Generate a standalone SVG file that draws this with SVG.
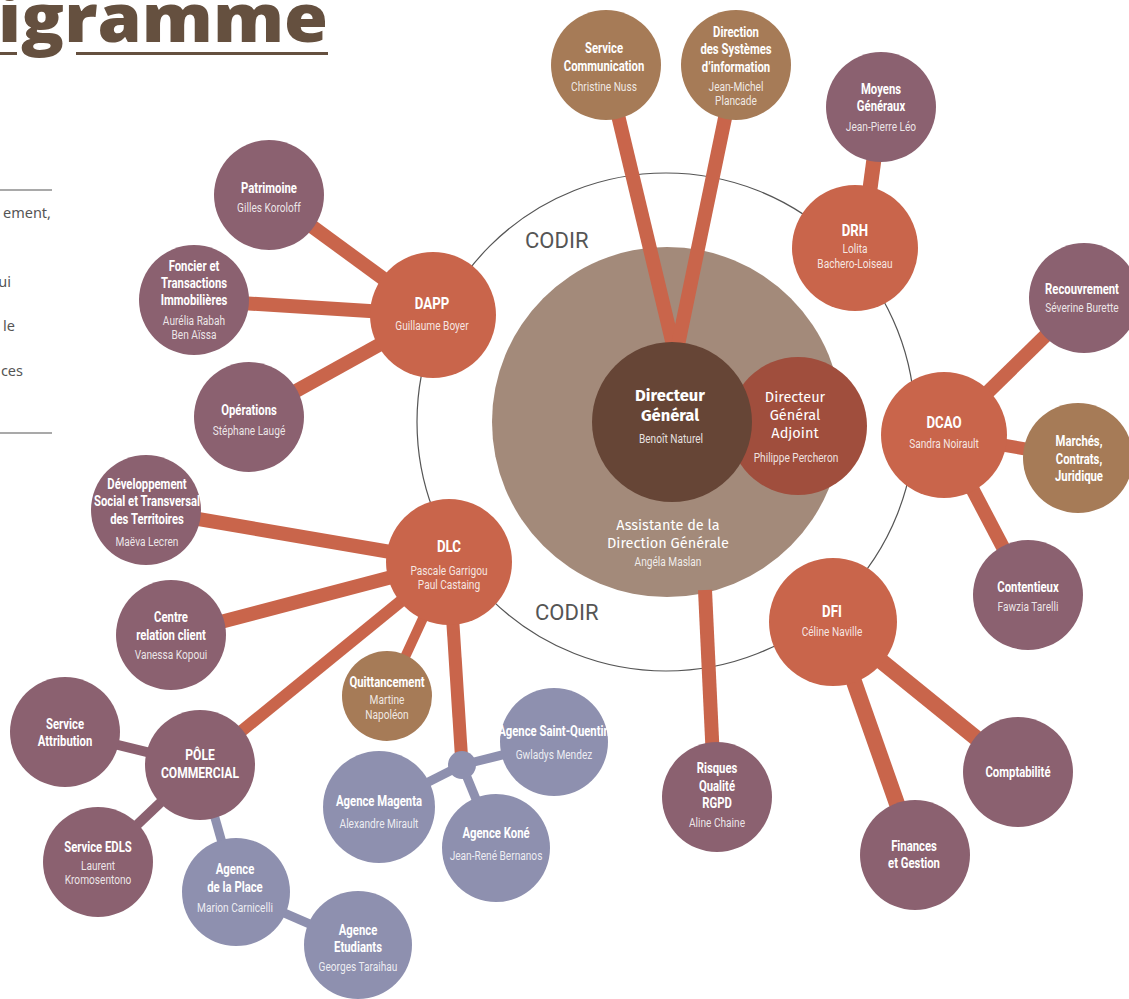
<svg xmlns="http://www.w3.org/2000/svg" width="1129" height="999" viewBox="0 0 1129 999">
<style>
.bg{fill:#ffffff}
.or{fill:#C9654B}.mv{fill:#8B6170}.br{fill:#A67B57}.lv{fill:#8E90AF}
.cO{stroke:#C9654B;stroke-linecap:butt;fill:none}
.cM{stroke:#8B6170;stroke-width:10;fill:none}
.cL{stroke:#8E90AF;stroke-width:9;fill:none}
.t{font-family:Roboto,"Liberation Sans",sans-serif;font-weight:bold;font-size:14.5px;fill:#ffffff;text-anchor:middle}
.h{font-family:Roboto,"Liberation Sans",sans-serif;font-weight:bold;font-size:17px;fill:#ffffff;text-anchor:middle}
.n{font-family:Roboto,"Liberation Sans",sans-serif;font-size:13px;fill:#ffffff;fill-opacity:0.85;text-anchor:middle}
.s{font-family:"Fira Sans","Open Sans","Noto Sans",sans-serif;font-size:14.5px;fill:#ffffff;text-anchor:middle}
.sb{font-family:"Fira Sans","Open Sans","Noto Sans",sans-serif;font-size:16.5px;font-weight:bold;fill:#ffffff;text-anchor:middle}
.codir{font-family:Roboto,"Liberation Sans",sans-serif;font-size:22px;fill:#555555}
.side{font-family:"Noto Sans","Open Sans",sans-serif;font-size:14.5px;fill:#555555;text-anchor:end}
</style>
<rect class="bg" x="0" y="0" width="1129" height="999"/>

<g id="title">
<text x="-2" y="42" font-family="'Open Sans','Noto Sans',sans-serif" font-weight="800" font-size="68" fill="#65503F" textLength="330" lengthAdjust="spacingAndGlyphs">igramme</text>
<line x1="0" y1="53.5" x2="17" y2="53.5" stroke="#65503F" stroke-width="3"/>
<line x1="76" y1="53.5" x2="328" y2="53.5" stroke="#65503F" stroke-width="3"/>
</g>

<g id="side-text">
<line x1="0" y1="190" x2="52" y2="190" stroke="#555" stroke-width="1.2"/>
<text class="side" x="51" y="218">ement,</text>
<text class="side" x="11" y="287">ui</text>
<text class="side" x="15" y="331">le</text>
<text class="side" x="23" y="376">ces</text>
<line x1="0" y1="433" x2="52" y2="433" stroke="#555" stroke-width="1.2"/>
</g>

<g id="codir">
<circle cx="666" cy="422" r="249" fill="none" stroke="#555" stroke-width="1.2"/>
<text class="codir" x="525" y="248">CODIR</text>
<text class="codir" x="535" y="620">CODIR</text>
</g>

<g id="assistante">
<circle cx="667" cy="422" r="175" fill="#A38A7A"/>
<text class="s" x="668" y="530">Assistante de la</text>
<text class="s" x="668" y="548">Direction Générale</text>
<g transform="matrix(0.78 0 0 1 146.96 0)"><text class="n" x="668" y="566">Angéla Maslan</text></g>
</g>

<g id="connectors">
<line class="cO" stroke-width="14" x1="606" y1="65" x2="673" y2="345"/>
<line class="cO" stroke-width="14" x1="736" y1="65" x2="678" y2="345"/>
<line class="cO" stroke-width="15" x1="881" y1="107" x2="862" y2="248"/>
<line class="cO" stroke-width="14" x1="433" y1="315" x2="269" y2="195"/>
<line class="cO" stroke-width="14" x1="433" y1="315" x2="194" y2="300"/>
<line class="cO" stroke-width="14" x1="433" y1="315" x2="249" y2="417"/>
<line class="cO" stroke-width="14" x1="449" y1="562" x2="146" y2="510"/>
<line class="cO" stroke-width="14" x1="449" y1="562" x2="171" y2="635"/>
<line class="cO" stroke-width="12" x1="449" y1="562" x2="200" y2="765"/>
<line class="cO" stroke-width="10" x1="449" y1="562" x2="387" y2="696"/>
<line class="cO" stroke-width="13" x1="449" y1="562" x2="462" y2="765"/>
<line class="cO" stroke-width="14" x1="705" y1="590" x2="713" y2="760"/>
<line class="cO" stroke-width="14" x1="944" y1="435" x2="1084" y2="298"/>
<line class="cO" stroke-width="13" x1="944" y1="435" x2="1078" y2="458"/>
<line class="cO" stroke-width="14" x1="944" y1="435" x2="1028" y2="595"/>
<line class="cO" stroke-width="16" x1="833" y1="622" x2="1018" y2="772"/>
<line class="cO" stroke-width="16" x1="833" y1="622" x2="915" y2="855"/>
<line class="cL" x1="462" y1="765" x2="554" y2="742"/>
<line class="cL" x1="462" y1="765" x2="379" y2="807"/>
<line class="cL" x1="462" y1="765" x2="496" y2="848"/>
<line class="cL" x1="200" y1="765" x2="236" y2="892"/>
<line class="cL" x1="236" y1="892" x2="358" y2="945"/>
<line class="cM" x1="200" y1="765" x2="65" y2="732"/>
<line class="cM" x1="200" y1="765" x2="98" y2="862"/>
</g>

<g id="dga">
<circle cx="798" cy="426" r="69" fill="#A04E3D"/>
<text class="s" x="795" y="402">Directeur</text>
<text class="s" x="795" y="420">Général</text>
<text class="s" x="795" y="438">Adjoint</text>
<g transform="matrix(0.78 0 0 1 175.12 0)"><text class="n" x="796" y="462">Philippe Percheron</text></g>
</g>
<g id="dg">
<circle cx="672" cy="422" r="80" fill="#664536"/>
<text class="sb" x="670" y="401">Directeur</text>
<text class="sb" x="670" y="421">Général</text>
<g transform="matrix(0.78 0 0 1 147.62 0)"><text class="n" x="671" y="443">Benoît Naturel</text></g>
</g>

<g id="service-communication">
<circle class="br" cx="606" cy="65" r="55"/>
<g transform="matrix(0.78 0 0 1 132.88 0)">
<text class="t" x="604" y="53">Service</text>
<text class="t" x="604" y="71">Communication</text>
<text class="n" x="604" y="91">Christine Nuss</text>
</g></g>
<g id="dsi">
<circle class="br" cx="736" cy="65" r="55"/>
<g transform="matrix(0.78 0 0 1 161.92 0)">
<text class="t" x="736" y="37">Direction</text>
<text class="t" x="736" y="54">des Systèmes</text>
<text class="t" x="736" y="72">d’information</text>
<text class="n" x="736" y="91">Jean-Michel</text>
<text class="n" x="736" y="105">Plancade</text>
</g></g>
<g id="moyens-generaux">
<circle class="mv" cx="881" cy="107" r="55"/>
<g transform="matrix(0.78 0 0 1 193.82 0)">
<text class="t" x="881" y="94">Moyens</text>
<text class="t" x="881" y="111">Généraux</text>
<text class="n" x="881" y="131">Jean-Pierre Léo</text>
</g></g>
<g id="drh">
<circle class="or" cx="855" cy="248" r="63"/>
<g transform="matrix(0.78 0 0 1 188.1 0)">
<text class="h" x="855" y="236">DRH</text>
<text class="n" x="855" y="253">Lolita</text>
<text class="n" x="855" y="268">Bachero-Loiseau</text>
</g></g>
<g id="dapp">
<circle class="or" cx="433" cy="315" r="63"/>
<g transform="matrix(0.78 0 0 1 95.04 0)">
<text class="h" x="432" y="309">DAPP</text>
<text class="n" x="432" y="330">Guillaume Boyer</text>
</g></g>
<g id="patrimoine">
<circle class="mv" cx="269" cy="195" r="55"/>
<g transform="matrix(0.78 0 0 1 59.18 0)">
<text class="t" x="269" y="193">Patrimoine</text>
<text class="n" x="269" y="212">Gilles Koroloff</text>
</g></g>
<g id="foncier">
<circle class="mv" cx="194" cy="300" r="55"/>
<g transform="matrix(0.78 0 0 1 42.68 0)">
<text class="t" x="194" y="271">Foncier et</text>
<text class="t" x="194" y="288">Transactions</text>
<text class="t" x="194" y="305">Immobilières</text>
<text class="n" x="194" y="325">Aurélia Rabah</text>
<text class="n" x="194" y="339">Ben Aïssa</text>
</g></g>
<g id="operations">
<circle class="mv" cx="249" cy="417" r="55"/>
<g transform="matrix(0.78 0 0 1 54.78 0)">
<text class="t" x="249" y="415">Opérations</text>
<text class="n" x="249" y="435">Stéphane Laugé</text>
</g></g>
<g id="dlc">
<circle class="or" cx="449" cy="562" r="63"/>
<g transform="matrix(0.78 0 0 1 98.78 0)">
<text class="h" x="449" y="552">DLC</text>
<text class="n" x="449" y="575">Pascale Garrigou</text>
<text class="n" x="449" y="589">Paul Castaing</text>
</g></g>
<g id="developpement">
<circle class="mv" cx="146" cy="510" r="55"/>
<g transform="matrix(0.78 0 0 1 32.34 0)">
<text class="t" x="147" y="489">Développement</text>
<text class="t" x="147" y="506">Social et Transversal</text>
<text class="t" x="147" y="524">des Territoires</text>
<text class="n" x="147" y="546">Maëva Lecren</text>
</g></g>
<g id="centre-relation-client">
<circle class="mv" cx="171" cy="635" r="55"/>
<g transform="matrix(0.78 0 0 1 37.62 0)">
<text class="t" x="171" y="622">Centre</text>
<text class="t" x="171" y="640">relation client</text>
<text class="n" x="171" y="659">Vanessa Kopoui</text>
</g></g>
<g id="quittancement">
<circle class="br" cx="387" cy="696" r="45"/>
<g transform="matrix(0.78 0 0 1 85.14 0)">
<text class="t" x="387" y="687">Quittancement</text>
<text class="n" x="387" y="704">Martine</text>
<text class="n" x="387" y="719">Napoléon</text>
</g></g>
<g id="junction">
<circle class="lv" cx="462" cy="765" r="14"/>
</g>
<g id="agence-saint-quentin">
<circle class="lv" cx="554" cy="742" r="54"/>
<g transform="matrix(0.78 0 0 1 121.88 0)">
<text class="t" x="554" y="736">Agence Saint-Quentin</text>
<text class="n" x="554" y="759">Gwladys Mendez</text>
</g></g>
<g id="agence-magenta">
<circle class="lv" cx="379" cy="807" r="56"/>
<g transform="matrix(0.78 0 0 1 83.38 0)">
<text class="t" x="379" y="806">Agence Magenta</text>
<text class="n" x="379" y="828">Alexandre Mirault</text>
</g></g>
<g id="agence-kone">
<circle class="lv" cx="496" cy="848" r="54"/>
<g transform="matrix(0.78 0 0 1 109.12 0)">
<text class="t" x="496" y="838">Agence Koné</text>
<text class="n" x="496" y="860">Jean-René Bernanos</text>
</g></g>
<g id="pole-commercial">
<circle class="mv" cx="200" cy="765" r="55"/>
<g transform="matrix(0.78 0 0 1 44 0)">
<text class="h" x="200" y="760" style="font-size:15.5px">PÔLE</text>
<text class="h" x="200" y="778" style="font-size:15.5px">COMMERCIAL</text>
</g></g>
<g id="service-attribution">
<circle class="mv" cx="65" cy="732" r="55"/>
<g transform="matrix(0.78 0 0 1 14.3 0)">
<text class="t" x="65" y="729">Service</text>
<text class="t" x="65" y="746">Attribution</text>
</g></g>
<g id="service-edls">
<circle class="mv" cx="98" cy="862" r="55"/>
<g transform="matrix(0.78 0 0 1 21.56 0)">
<text class="t" x="98" y="852">Service EDLS</text>
<text class="n" x="98" y="870">Laurent</text>
<text class="n" x="98" y="884">Kromosentono</text>
</g></g>
<g id="agence-de-la-place">
<circle class="lv" cx="236" cy="892" r="54"/>
<g transform="matrix(0.78 0 0 1 51.7 0)">
<text class="t" x="235" y="874">Agence</text>
<text class="t" x="235" y="892">de la Place</text>
<text class="n" x="235" y="912">Marion Carnicelli</text>
</g></g>
<g id="agence-etudiants">
<circle class="lv" cx="358" cy="945" r="54"/>
<g transform="matrix(0.78 0 0 1 78.76 0)">
<text class="t" x="358" y="935">Agence</text>
<text class="t" x="358" y="952">Etudiants</text>
<text class="n" x="358" y="971">Georges Taraihau</text>
</g></g>
<g id="dcao">
<circle class="or" cx="944" cy="435" r="63"/>
<g transform="matrix(0.78 0 0 1 207.68 0)">
<text class="h" x="944" y="428">DCAO</text>
<text class="n" x="944" y="448">Sandra Noirault</text>
</g></g>
<g id="recouvrement">
<circle class="mv" cx="1084" cy="298" r="55"/>
<g transform="matrix(0.78 0 0 1 238.04 0)">
<text class="t" x="1082" y="294">Recouvrement</text>
<text class="n" x="1082" y="312">Séverine Burette</text>
</g></g>
<g id="marches">
<circle class="br" cx="1078" cy="458" r="55"/>
<g transform="matrix(0.78 0 0 1 237.38 0)">
<text class="t" x="1079" y="446">Marchés,</text>
<text class="t" x="1079" y="464">Contrats,</text>
<text class="t" x="1079" y="481">Juridique</text>
</g></g>
<g id="contentieux">
<circle class="mv" cx="1028" cy="595" r="55"/>
<g transform="matrix(0.78 0 0 1 226.16 0)">
<text class="t" x="1028" y="592">Contentieux</text>
<text class="n" x="1028" y="611">Fawzia Tarelli</text>
</g></g>
<g id="dfi">
<circle class="or" cx="833" cy="622" r="64"/>
<g transform="matrix(0.78 0 0 1 183.04 0)">
<text class="h" x="832" y="617">DFI</text>
<text class="n" x="832" y="636">Céline Naville</text>
</g></g>
<g id="risques">
<circle class="mv" cx="717" cy="797" r="55"/>
<g transform="matrix(0.78 0 0 1 157.74 0)">
<text class="t" x="717" y="773">Risques</text>
<text class="t" x="717" y="791">Qualité</text>
<text class="t" x="717" y="808">RGPD</text>
<text class="n" x="717" y="827">Aline Chaine</text>
</g></g>
<g id="comptabilite">
<circle class="mv" cx="1018" cy="772" r="55"/>
<g transform="matrix(0.78 0 0 1 223.96 0)">
<text class="t" x="1018" y="777">Comptabilité</text>
</g></g>
<g id="finances">
<circle class="mv" cx="915" cy="855" r="55"/>
<g transform="matrix(0.78 0 0 1 201.08 0)">
<text class="t" x="914" y="851">Finances</text>
<text class="t" x="914" y="868">et Gestion</text>
</g></g>
</svg>
